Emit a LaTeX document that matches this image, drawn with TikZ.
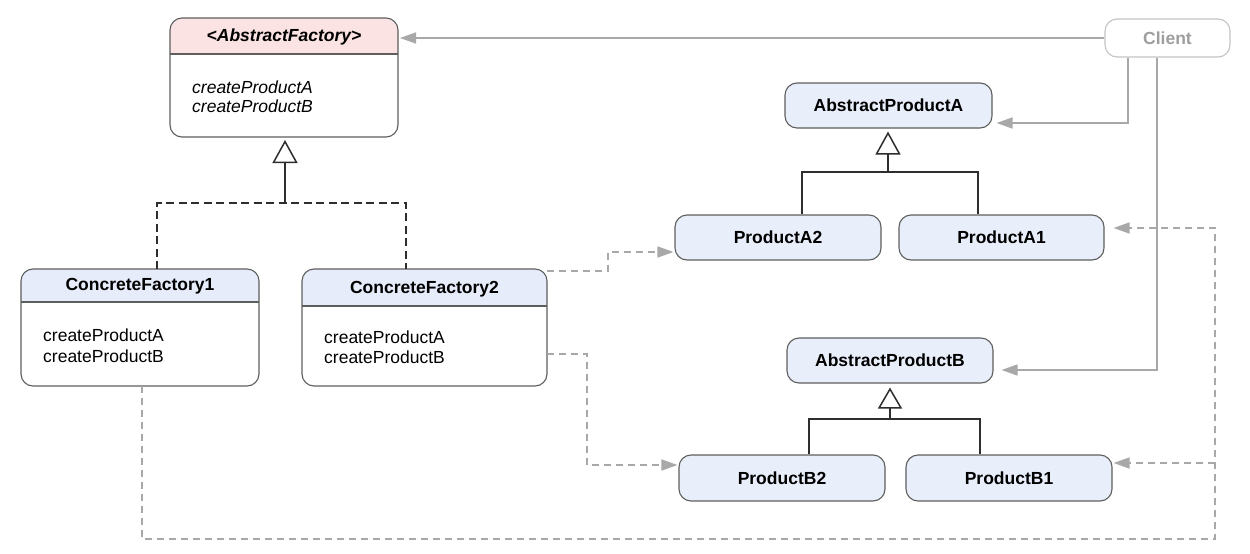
\documentclass[tikz,border=0pt]{standalone}
\usepackage{fontspec}
\setmainfont{Liberation Sans}
\usetikzlibrary{arrows.meta,calc}
\definecolor{bord}{HTML}{5E5E5E}
\definecolor{hblue}{HTML}{E6ECF9}
\definecolor{pblue}{HTML}{E8EEFA}
\definecolor{hpink}{HTML}{FBE3E3}
\definecolor{garrow}{HTML}{A8A8A8}
\definecolor{cbord}{HTML}{C4C4C4}
\definecolor{ctext}{HTML}{9E9E9E}
\definecolor{inhc}{HTML}{2E2E2E}
\begin{document}
\begin{tikzpicture}[x=1pt,y=-1pt,
  every node/.style={font=\fontsize{17.5}{21}\selectfont, inner sep=0pt},
  prodbox/.style={draw=bord, line width=1.1pt, fill=pblue, rounded corners=12pt,
    minimum width=206pt, minimum height=45pt, font=\fontsize{17.5}{21}\selectfont\bfseries},
  frame/.style={inner sep=0pt, outer sep=0pt},
  border/.style={draw=bord, line width=1.1pt, rounded corners=12pt},
  sepline/.style={draw=bord, line width=1.1pt},
  ttl/.style={font=\fontsize{17.5}{21}\selectfont\bfseries},
  body/.style={anchor=west},
  garr/.style={draw=garrow, line width=1.6pt, -{Triangle[length=16pt,width=11pt]}},
  gdash/.style={garr, dash pattern=on 7pt off 5pt},
  inhline/.style={draw=inhc, line width=1.5pt},
  inhdash/.style={inhline, dash pattern=on 8pt off 4.5pt},
  inharr/.style={inhline, -{Triangle[open, length=23pt, width=25pt, fill=white]}}
]
\useasboundingbox (0,0) rectangle (1250,554);
\fill[white] (0,0) rectangle (1250,554);

% ---------- AbstractFactory ----------
\node[frame, minimum width=228pt, minimum height=119pt] (af) at (284,77.5) {};
\fill[hpink] (170,54) [rounded corners=12pt] -- (170,18) -- (398,18) [sharp corners] -- (398,54) -- cycle;
\draw[sepline] (170,54) -- (398,54);
\draw[border] (af.south west) rectangle (af.north east);
\node[font=\fontsize{17.5}{21}\selectfont\bfseries\itshape] (aft) at (284,37) {<AbstractFactory>};
\node[body, font=\fontsize{17.5}{21}\selectfont\itshape] (afm1) at (192,87) {createProductA};
\node[body, font=\fontsize{17.5}{21}\selectfont\itshape] (afm2) at (192,106) {createProductB};

% ---------- ConcreteFactory1 ----------
\node[frame, minimum width=238pt, minimum height=117pt] (cf1) at (140,327.5) {};
\fill[hblue] (21,302) [rounded corners=12pt] -- (21,269) -- (259,269) [sharp corners] -- (259,302) -- cycle;
\draw[sepline] (21,302) -- (259,302);
\draw[border] (cf1.south west) rectangle (cf1.north east);
\node[ttl] (cf1t) at (140,286) {ConcreteFactory1};
\node[body] (cf1m1) at (43,335) {createProductA};
\node[body] (cf1m2) at (43,356) {createProductB};

% ---------- ConcreteFactory2 ----------
\node[frame, minimum width=245pt, minimum height=117pt] (cf2) at (424.5,327.5) {};
\fill[hblue] (302,306) [rounded corners=12pt] -- (302,269) -- (547,269) [sharp corners] -- (547,306) -- cycle;
\draw[sepline] (302,306) -- (547,306);
\draw[border] (cf2.south west) rectangle (cf2.north east);
\node[ttl] (cf2t) at (424.5,289) {ConcreteFactory2};
\node[body] (cf2m1) at (324,337) {createProductA};
\node[body] (cf2m2) at (324,357) {createProductB};

% ---------- Client ----------
\node[draw=cbord, line width=1.1pt, rounded corners=12pt, minimum width=125pt, minimum height=38pt,
  font=\fontsize{17.5}{21}\selectfont\bfseries, text=ctext] (client) at (1167.5,38) {Client};

% ---------- Products ----------
\node[prodbox, minimum width=207pt] (apa) at (888.5,105.5) {AbstractProductA};
\node[prodbox] (pa2) at (778,237.5) {ProductA2};
\node[prodbox, minimum width=205pt] (pa1) at (1001.5,237.5) {ProductA1};
\node[prodbox] (apb) at (890,360.5) {AbstractProductB};
\node[prodbox, minimum height=46pt] (pb2) at (782,478) {ProductB2};
\node[prodbox, minimum height=46pt] (pb1) at (1009,478) {ProductB1};

% ---------- helper coordinates ----------
\coordinate (xc1) at (1128,0);
\coordinate (xc2) at (1157,0);
\coordinate (jaf) at (285,203);
\coordinate (xl) at (157,0);
\coordinate (xr) at (406,0);
\coordinate (ja) at (888,172);
\coordinate (xa2) at (802,0);
\coordinate (xa1) at (978,0);
\coordinate (jb) at (890,419);
\coordinate (xb2) at (809,0);
\coordinate (xb1) at (980,0);
\coordinate (xp) at (608,0);
\coordinate (xq) at (587,0);
\coordinate (xb) at (142,0);
\coordinate (yb) at (0,539);
\coordinate (xrr) at (1215,0);
\coordinate (br) at (1215,463);
\coordinate (s2) at ([yshift=-2pt]cf2.north east);
\coordinate (s3) at ([yshift=-26.5pt]cf2.east);

% ---------- Client associations ----------
\draw[garr, shorten >=2pt] (client.west) -- (af.east |- client.west);
\draw[garr, shorten >=4pt] (client.south -| xc1) |- ([yshift=-17.5pt]apa.east);
\draw[garr, shorten >=8pt] (client.south -| xc2) |- ([yshift=-9.5pt]apb.east);

% ---------- inheritance ----------
\draw[inhdash] (cf1.north -| xl) |- (jaf) -| (cf2.north -| xr);
\draw[inharr, shorten >=3pt] (jaf) -- (af.south -| jaf);

\draw[inhline] (pa2.north -| xa2) |- (ja) -| (pa1.north -| xa1);
\draw[inharr, shorten >=3pt] (ja) -- (apa.south -| ja);

\draw[inhline] (pb2.north -| xb2) |- (jb) -| (pb1.north -| xb1);
\draw[inharr, -{Triangle[open, length=21pt, width=24pt, fill=white]}, shorten >=4pt] (jb) -- (apb.south -| jb);

% ---------- creation dependencies ----------
\draw[gdash, shorten >=1pt] (s2) -- (s2 -| xp) |- ([yshift=-14.5pt]pa2.west);
\draw[gdash, shorten >=1pt] (s3) -- (s3 -| xq) |- ([yshift=13pt]pb2.west);
\draw[gdash, shorten >=9pt] (cf1.south -| xb) -- (xb |- yb) -- (xrr |- yb) |- ([yshift=9.5pt]pa1.east);
\draw[gdash, shorten >=1pt] (br) -- ([yshift=15pt]pb1.east);
\end{tikzpicture}
\end{document}
